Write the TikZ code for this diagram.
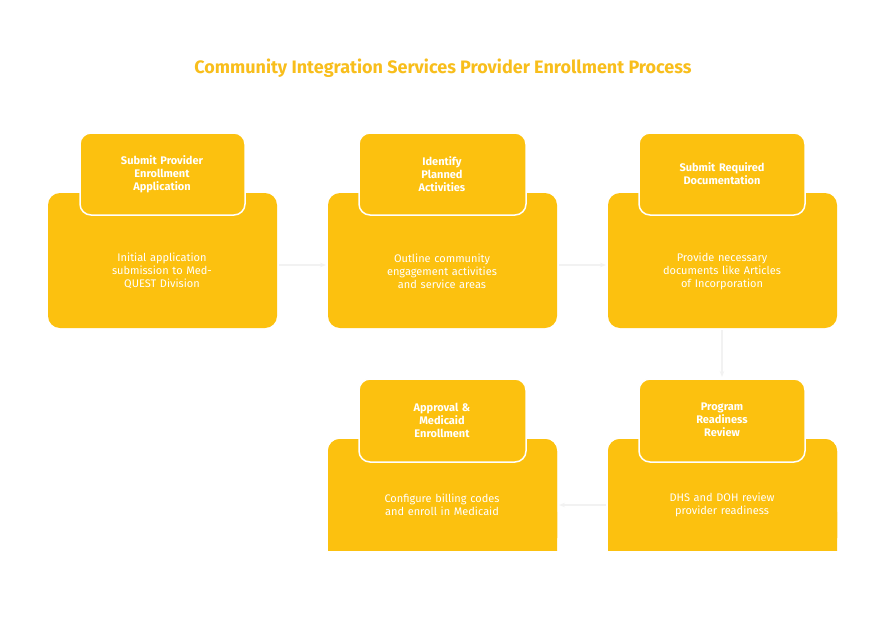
\documentclass[tikz,border=0pt]{standalone}
\usepackage{fontspec}
\setmainfont{Fira Sans}
\usetikzlibrary{arrows.meta}
\definecolor{yel}{HTML}{FCC10F}
\definecolor{ttl}{HTML}{F8BE1C}
\definecolor{con}{HTML}{F2F2F2}
\begin{document}
\begin{tikzpicture}[x=1pt,y=-1pt,
 big/.style={fill=yel,rounded corners=12pt,draw=none},
 small/.style={fill=yel,draw=white,line width=1.5pt,rounded corners=11pt},
 btxt/.style={text=white,font=\fontsize{11}{13}\selectfont,align=center,text width=150pt},
 stxt/.style={text=white,font=\bfseries\fontsize{11}{13}\selectfont,align=center,text width=130pt},
 conn/.style={draw=con,line width=1.2pt,-{Stealth[length=6pt]}}]
\useasboundingbox (0,0) rectangle (887,624);
\node[text=ttl,font=\bfseries\fontsize{18}{20}\selectfont] (title) at (443,68) {Community Integration Services Provider Enrollment Process};
% boxes
\foreach \n/\x/\y in {a/48/193,b/328/193,c/608/193,e/328/439,d/608/439}{
  \path[big] (\x,\y) rectangle ++(229,135);
}
\path[big] (328,439) rectangle ++(229,111);
\path[big] (608,439) rectangle ++(229,111);
\draw[small] (80,133) rectangle (245,215);
\draw[small] (359,133) rectangle (526,215);
\draw[small] (639,133) rectangle (805,215);
\draw[small] (359,379) rectangle (526,462);
\draw[small] (639,379) rectangle (805,462);
\path[fill=white] (320,551) rectangle (845,600);
\path[fill=yel,rounded corners=12pt] (328,500) rectangle (557,550);
\path[fill=yel,rounded corners=12pt] (608,500) rectangle (837,550);
% texts
\node[stxt] (h1) at (162,174) {Submit Provider\\Enrollment\\Application};
\node[stxt] (h2) at (442,174) {Identify\\Planned\\Activities};
\node[stxt] (h3) at (722,174) {Submit Required\\Documentation};
\node[stxt] (h5) at (442,420) {Approval \&\\Medicaid\\Enrollment};
\node[stxt] (h4) at (722,420) {Program\\Readiness\\Review};
\node[btxt] (t1) at (162,271) {Initial application\\submission to Med-\\QUEST Division};
\node[btxt] (t2) at (442,271) {Outline community\\engagement activities\\and service areas};
\node[btxt] (t3) at (722,271) {Provide necessary\\documents like Articles\\of Incorporation};
\node[btxt] (t5) at (442,505) {Configure billing codes\\and enroll in Medicaid};
\node[btxt] (t4) at (722,505) {DHS and DOH review\\provider readiness};
\coordinate (a1) at (279,265); \coordinate (a2) at (326,265);
\coordinate (b1) at (559,265); \coordinate (b2) at (606,265);
\coordinate (c1) at (722,330); \coordinate (c2) at (722,377);
\coordinate (d1) at (606,505); \coordinate (d2) at (559,505);
\draw[conn] (a1) -- (a2);
\draw[conn] (b1) -- (b2);
\draw[conn] (c1) -- (c2);
\draw[conn] (d1) -- (d2);
\end{tikzpicture}
\end{document}
